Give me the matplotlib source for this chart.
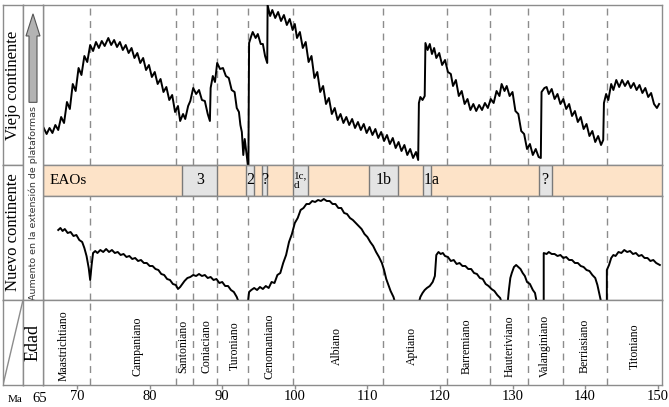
import numpy as np
import matplotlib.pyplot as plt
from matplotlib.patches import FancyArrow

W, H = 669, 407

# --- data -------------------------------------------------------------
# stage boundaries (Ma)
bounds = [71.8, 83.6, 86.0, 89.3, 93.6, 99.8, 112.1, 121.0, 126.9, 132.1, 136.9, 143.0]
stages = ["Maastrichtiano", "Campaniano", "Santoniano", "Coniaciano", "Turoniano",
          "Cenomaniano", "Albiano", "Aptiano", "Barremiano", "Hauteriviano",
          "Valanginiano", "Berriasiano", "Titoniano"]
stage_mid = [68.1, 78.3, 84.6, 87.8, 91.8, 96.5, 105.8, 116.1, 123.7, 129.6, 134.5, 140.0, 146.9]

# OAE boxes: (start, end, label)
oae_start = [84.5, 93.3, 95.5, 99.8, 110.2, 117.7, 133.6]
oae_end = [89.3, 94.4, 96.2, 101.8, 114.2, 118.8, 135.4]
oae_label = ["3", "2", "?", "1c,\nd", "1b", "1", "?"]

# Viejo continente curve (Ma, relative extent)
old_ma = [65.4, 65.8, 66.2, 66.6, 67.0, 67.4, 67.8, 68.2, 68.6, 69.0, 69.4, 69.8, 70.2, 70.6,
          71.0, 71.4, 71.8, 72.2, 72.6, 73.0, 73.4, 73.8, 74.3, 74.7, 75.1, 75.5, 75.9, 76.3,
          76.7, 77.1, 77.5, 77.9, 78.3, 78.7, 79.1, 79.5, 79.9, 80.3, 80.7, 81.1, 81.5, 81.9,
          82.3, 82.7, 83.1, 83.5, 83.9, 84.2, 84.6, 84.9, 85.3, 85.6, 86.0, 86.4, 86.8, 87.2,
          87.6, 88.0, 88.3,
          88.4, 88.7, 89.0, 89.3, 89.7, 90.1, 90.5, 90.9, 91.3, 91.7, 92.0, 92.3, 92.5, 92.7,
          92.9, 93.1, 93.4, 93.6,
          93.7, 94.0, 94.2, 94.6, 94.9, 95.3, 95.6, 95.9, 96.2,
          96.25, 96.6, 96.9, 97.3, 97.7, 98.1, 98.5, 98.9, 99.3, 99.7, 100.0, 100.3, 100.7,
          101.1, 101.5, 101.9, 102.3, 102.7, 103.1, 103.5, 103.9, 104.3, 104.7, 105.1, 105.5,
          105.9, 106.3, 106.7, 107.1, 107.5, 107.9, 108.3, 108.7, 109.1, 109.5, 109.9, 110.3,
          110.7, 111.1, 111.5, 111.9, 112.3, 112.7, 113.1, 113.5, 113.9, 114.3, 114.7, 115.1,
          115.5, 115.9, 116.3, 116.7, 117.0,
          117.1, 117.3, 117.6, 117.9, 118.0, 118.3, 118.6, 118.9, 119.2, 119.5, 119.9, 120.3,
          120.7, 121.1, 121.5, 121.8, 122.2, 122.6, 123.0, 123.4, 123.8, 124.2, 124.6, 125.0,
          125.4, 125.8, 126.2, 126.6, 127.0, 127.4, 127.8, 128.2, 128.5, 128.9, 129.2, 129.6,
          130.0, 130.4, 130.8, 131.2, 131.6, 132.0, 132.4, 132.8, 133.2, 133.6, 133.9,
          134.0, 134.4, 134.7, 135.0, 135.4, 135.8, 136.2, 136.6, 137.0, 137.4, 137.8, 138.2,
          138.6, 139.0, 139.4, 139.8, 140.2, 140.6, 141.0, 141.4, 141.8, 142.2, 142.5,
          142.6, 142.9, 143.2, 143.6, 143.9, 144.3, 144.7, 145.1, 145.5, 145.9, 146.3, 146.7,
          147.1, 147.5, 147.9, 148.3, 148.7, 149.1, 149.5, 149.9, 150.2]
old_val = [37, 31, 37, 32, 40, 35, 48, 42, 63, 56, 81, 74, 97, 90,
           109, 103, 120, 114, 123, 117, 124, 119, 127, 120, 125, 118, 123, 115,
           120, 112, 117, 107, 112, 102, 107, 95, 100, 88, 93, 81, 86, 73,
           78, 65, 70, 53, 59, 44, 51, 46, 59, 64, 77, 71, 75, 65,
           64, 51, 44,
           77, 89, 83, 102, 96, 97, 89, 87, 75, 73, 57, 53, 40, 33,
           10, 26, 8, -5,
           122, 129, 133, 127, 131, 121, 121, 109, 102,
           160, 149, 155, 147, 153, 144, 150, 140, 146, 135, 141, 127, 133,
           117, 123, 103, 109, 87, 93, 73, 79, 61, 67, 51, 57,
           45, 51, 42, 48, 40, 46, 37, 43, 35, 41, 32, 38,
           30, 36, 27, 33, 24, 30, 21, 27, 17, 23, 14, 20,
           10, 16, 7, 13, 5,
           62, 68, 65, 69, 122, 115, 121, 111, 117, 107, 112, 100,
           105, 93, 91, 79, 85, 69, 74, 61, 66, 55, 61, 54,
           60, 55, 62, 57, 66, 62, 74, 69, 81, 74, 79, 69,
           73, 54, 51, 34, 31, 16, 21, 10, 16, 8, 7,
           73, 77, 78, 71, 76, 66, 71, 61, 66, 56, 61, 49,
           54, 43, 48, 36, 41, 29, 34, 23, 29, 20, 25,
           62, 71, 65, 81, 75, 85, 78, 85, 79, 84, 77, 82,
           75, 80, 72, 77, 68, 72, 61, 57, 61]

# Nuevo continente curve (NaN = no record)
new_ma = [67.4, 67.7, 68.0, 68.3, 68.7, 69.1, 69.5, 69.9, 70.3, 70.7, 71.0, 71.3, 71.6, 71.8,
          72.0, 72.2, 72.5, 72.8, 73.2, 73.6, 74.0, 74.4, 74.8, 75.2, 75.6, 76.0, 76.4, 76.8,
          77.2, 77.6, 78.0, 78.4, 78.8, 79.2, 79.6, 80.0, 80.4, 80.8, 81.2, 81.6, 82.0, 82.4,
          82.8, 83.2, 83.6, 83.9, 84.2, 84.5, 84.8, 85.2, 85.6, 86.0, 86.4, 86.8, 87.2, 87.6,
          88.0, 88.4, 88.8, 89.2, 89.6, 90.0, 90.4, 90.8, 91.2, 91.6, 92.0, 92.4, np.nan,
          93.5, 93.7, 94.0, 94.4, 94.8, 95.2, 95.6, 96.0, 96.4, 96.8, 97.2, 97.6, 98.0, 98.4,
          98.8, 99.2, 99.6, 100.0, 100.4, 100.8, 101.2, 101.6, 102.0, 102.4, 102.8, 103.2,
          103.6, 104.0, 104.4, 104.8, 105.2, 105.6, 106.0, 106.4, 106.8, 107.2, 107.6, 108.0,
          108.4, 108.8, 109.2, 109.6, 110.0, 110.4, 110.8, 111.2, 111.6, 112.0, 112.3, 112.6,
          112.9, 113.2, 113.6, 113.9, np.nan,
          117.0, 117.3, 117.6, 117.9, 118.2, 118.6, 119.0, 119.3, 119.5, 119.8, 120.1, 120.4,
          120.7, 121.1, 121.5, 121.9, 122.3, 122.7, 123.1, 123.5, 123.9, 124.3, 124.7, 125.1,
          125.5, 125.9, 126.3, 126.7, 127.1, 127.5, 127.9, 128.3, 128.6, np.nan,
          129.3, 129.5, 129.7, 129.9, 130.2, 130.5, 130.8, 131.1, 131.4, 131.7, 132.0, 132.4,
          132.8, 133.1, 133.4, np.nan,
          134.3, 134.3, 134.7, 135.0, 135.4, 135.8, 136.2, 136.6, 137.0, 137.4, 137.8, 138.2,
          138.6, 139.0, 139.4, 139.8, 140.2, 140.6, 141.0, 141.4, 141.7, 142.0, 142.3, np.nan,
          143.0, 143.0, 143.3, 143.6, 143.9, 144.2, 144.6, 145.0, 145.4, 145.8, 146.2, 146.6,
          147.0, 147.4, 147.8, 148.2, 148.6, 149.0, 149.4, 149.8, 150.3]
new_val = [70, 72, 69, 71, 67, 68, 64, 65, 60, 58, 52, 44, 32, 20,
           35, 47, 49, 47, 50, 48, 51, 48, 50, 47, 48, 45, 46, 43,
           44, 41, 42, 39, 40, 37, 37, 34, 34, 31, 30, 26, 25, 21,
           20, 16, 15, 11, 13, 16, 19, 22, 23, 25, 24, 26, 24, 25,
           22, 23, 20, 21, 17, 18, 14, 14, 10, 8, 3, -5, np.nan,
           -5, 8, 10, 12, 10, 13, 11, 14, 12, 18, 17, 25, 27, 37,
           45, 58, 66, 77, 82, 90, 92, 96, 96, 99, 98, 100,
           99, 101, 99, 99, 96, 96, 92, 92, 87, 86, 82, 80,
           77, 74, 71, 66, 63, 58, 54, 48, 43, 37, 30, 21,
           15, 9, 3, -5, np.nan,
           -5, 3, 7, 10, 12, 14, 18, 24, 45, 48, 46, 47,
           44, 43, 39, 40, 36, 37, 34, 34, 31, 31, 27, 26,
           22, 21, 16, 14, 11, 9, 5, 2, -5, np.nan,
           -5, 10, 22, 27, 33, 35, 33, 31, 27, 24, 18, 16,
           10, 7, -5, np.nan,
           -5, 47, 46, 48, 46, 46, 44, 45, 42, 43, 40, 40,
           37, 37, 34, 33, 30, 29, 25, 22, 15, 5, -5, np.nan,
           -5, 30, 35, 42, 45, 44, 48, 47, 50, 48, 49, 46,
           47, 44, 45, 42, 42, 39, 40, 37, 35]

xticks = [70, 80, 90, 100, 110, 120, 130, 140, 150]

# --- layout -----------------------------------------------------------
SERIF = "Liberation Serif"
FRAME = "#8c8c8c"
DASH = "#8c8c8c"
XMIN, XMAX = 65.3, 150.6

fig = plt.figure(figsize=(W / 100, H / 100), dpi=100)


def box(x0, y0, x1, y1):
    return [x0 / W, 1 - y1 / H, (x1 - x0) / W, (y1 - y0) / H]


def style(ax):
    for s in ax.spines.values():
        s.set_color(FRAME)
        s.set_linewidth(1.0)
    ax.set_xticks([])
    ax.set_yticks([])


ax_top = fig.add_axes(box(43, 5, 662, 165))
ax_band = fig.add_axes(box(43, 165, 662, 196))
ax_bot = fig.add_axes(box(43, 196, 662, 300))
ax_age = fig.add_axes(box(43, 300, 662, 385))
for ax in (ax_top, ax_band, ax_bot, ax_age):
    style(ax)
    ax.set_xlim(XMIN, XMAX)

for ax in (ax_top, ax_bot, ax_age):
    for b in bounds:
        ax.axvline(b, color=DASH, lw=1.0, ls=(0, (5, 4)), zorder=1)

ax_top.set_ylim(0, 160)
ax_top.plot(old_ma, old_val, color="black", lw=1.4, zorder=3)

ax_bot.set_ylim(0, 104)
ax_bot.plot(new_ma, new_val, color="black", lw=1.4, zorder=3)

# OAE band
ax_band.set_ylim(0, 1)
ax_band.axvspan(XMIN, XMAX, color="#fde3c8", zorder=0)
for s, e, lab in zip(oae_start, oae_end, oae_label):
    ax_band.axvspan(s, e, facecolor="#e4e4e4", edgecolor="#7a7a7a", lw=1.0, zorder=2)
    if lab.startswith("1c"):
        ax_band.text(s + 0.1, 0.5, lab, fontsize=8, family=SERIF, ha="left",
                     va="center", linespacing=1.0, zorder=3)
    else:
        ax_band.text((s + e) / 2, 0.5, lab, fontsize=11.5, family=SERIF,
                     ha="center", va="center", zorder=3)
ax_band.text(118.8, 0.5, "a", fontsize=11.5, family=SERIF, ha="left", va="center")
ax_band.text(66.2, 0.5, "EAOs", fontsize=11, family=SERIF, ha="left", va="center")

# age panel
ax_age.set_ylim(0, 1)
for m, name in zip(stage_mid, stages):
    ax_age.text(m, 0.46, name, rotation=90, fontsize=8.5, family=SERIF,
                ha="center", va="center")
ax_age.set_xticks(xticks)
ax_age.set_xticklabels([str(t) for t in xticks], family=SERIF, fontsize=10.5)
ax_age.tick_params(axis="x", direction="out", length=3, width=1.0, color=FRAME,
                   pad=0.5)

# left columns
ax_viejo = fig.add_axes(box(3, 5, 23, 165))
ax_nuevo = fig.add_axes(box(3, 165, 23, 300))
ax_diag = fig.add_axes(box(3, 300, 23, 385))
ax_aum = fig.add_axes(box(23, 5, 43, 300))
ax_edad = fig.add_axes(box(23, 300, 43, 385))
for ax in (ax_viejo, ax_nuevo, ax_diag, ax_aum, ax_edad):
    style(ax)
    ax.set_xlim(0, 1)
    ax.set_ylim(0, 1)

ax_viejo.text(0.5, 0.5, "Viejo continente", rotation=90, fontsize=12, family=SERIF,
              ha="center", va="center")
ax_nuevo.text(0.5, 0.5, "Nuevo continente", rotation=90, fontsize=12, family=SERIF,
              ha="center", va="center")
ax_diag.plot([0, 1], [0, 1], color=FRAME, lw=1.0)
ax_edad.text(0.5, 0.5, "Edad", rotation=90, fontsize=13, family=SERIF,
             ha="center", va="center")
ax_aum.text(0.5, 0.33, "Aumento en la extensión de plataformas", rotation=90,
            fontsize=6.8, family="DejaVu Sans", color="#333333", ha="center",
            va="center")
ax_aum.add_patch(FancyArrow(0.5, 0.67, 0, 0.30, width=0.4, head_width=0.7,
                            head_length=0.075, length_includes_head=True,
                            facecolor="#b3b3b3", edgecolor="#555555", lw=0.8))

fig.text(15 / W, 1 - 399 / H, "Ma", family=SERIF, fontsize=8, ha="center", va="center")
fig.text(40 / W, 1 - 399 / H, "65", family=SERIF, fontsize=10.5, ha="center", va="center")

fig.savefig("out.png", dpi=100)
